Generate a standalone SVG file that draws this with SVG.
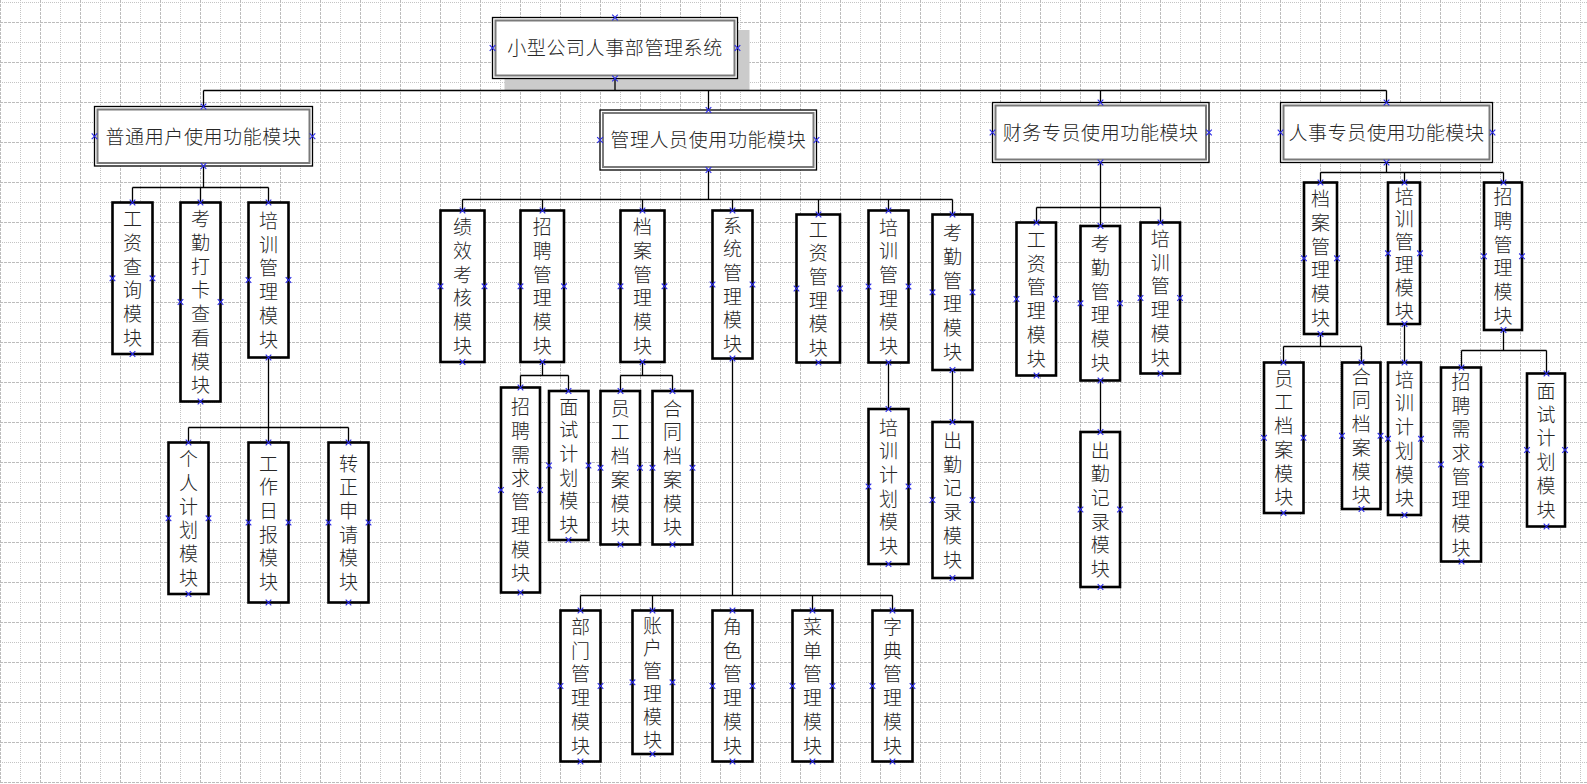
<svg xmlns="http://www.w3.org/2000/svg" width="1587" height="784" viewBox="0 0 1587 784">
<style>
.gd{fill:none;stroke:#bcbcbc;stroke-width:1;stroke-dasharray:3 1}
.gp{fill:none;stroke:#c4c4c4;stroke-width:1;stroke-dasharray:1 1}
.hb{fill:#fff;stroke:#000;stroke-width:1.3}
.hi{fill:none;stroke:#7a7a7a;stroke-width:2}
.vb{fill:#fff;stroke:#000;stroke-width:2.6}
.tx{font-family:'Noto Sans CJK SC','Noto Sans CJK TC',sans-serif;font-size:19px;font-weight:300;fill:#262626;text-anchor:middle}
.ht{letter-spacing:0.6px}
.vt{writing-mode:vertical-rl;letter-spacing:4.7px}
.vs{writing-mode:vertical-rl;letter-spacing:3.8px}
.cn{fill:none;stroke:#000;stroke-width:1.3}
</style>
<defs>
<path id="mk" d="M-2.8,-2.8L2.8,2.8M-2.8,2.8L2.8,-2.8" fill="none" stroke="#2a2ae6" stroke-width="1.1"/>
</defs>
<rect width="1587" height="784" fill="#fff"/>
<!-- background grid -->
<g id="grid">
<path class="gd" d="M0,22.5H1587M0,62.5H1587M0,102.5H1587M0,142.5H1587M0,182.5H1587M0,222.5H1587M0,262.5H1587M0,302.5H1587M0,342.5H1587M0,382.5H1587M0,422.5H1587M0,462.5H1587M0,502.5H1587M0,542.5H1587M0,582.5H1587M0,622.5H1587M0,662.5H1587M0,702.5H1587M0,742.5H1587M0,782.5H1587"/>
<path class="gp" d="M0,2.5H1587M0,42.5H1587M0,82.5H1587M0,122.5H1587M0,162.5H1587M0,202.5H1587M0,242.5H1587M0,282.5H1587M0,322.5H1587M0,362.5H1587M0,402.5H1587M0,442.5H1587M0,482.5H1587M0,522.5H1587M0,562.5H1587M0,602.5H1587M0,642.5H1587M0,682.5H1587M0,722.5H1587M0,762.5H1587"/>
<path class="gd" d="M0.5,0V784M40.5,0V784M80.5,0V784M120.5,0V784M160.5,0V784M200.5,0V784M240.5,0V784M280.5,0V784M320.5,0V784M360.5,0V784M400.5,0V784M440.5,0V784M480.5,0V784M520.5,0V784M560.5,0V784M600.5,0V784M640.5,0V784M680.5,0V784M720.5,0V784M760.5,0V784M800.5,0V784M840.5,0V784M880.5,0V784M920.5,0V784M960.5,0V784M1000.5,0V784M1040.5,0V784M1080.5,0V784M1120.5,0V784M1160.5,0V784M1200.5,0V784M1240.5,0V784M1280.5,0V784M1320.5,0V784M1360.5,0V784M1400.5,0V784M1440.5,0V784M1480.5,0V784M1520.5,0V784M1560.5,0V784"/>
<path class="gp" d="M20.5,0V784M60.5,0V784M100.5,0V784M140.5,0V784M180.5,0V784M220.5,0V784M260.5,0V784M300.5,0V784M340.5,0V784M380.5,0V784M420.5,0V784M460.5,0V784M500.5,0V784M540.5,0V784M580.5,0V784M620.5,0V784M660.5,0V784M700.5,0V784M740.5,0V784M780.5,0V784M820.5,0V784M860.5,0V784M900.5,0V784M940.5,0V784M980.5,0V784M1020.5,0V784M1060.5,0V784M1100.5,0V784M1140.5,0V784M1180.5,0V784M1220.5,0V784M1260.5,0V784M1300.5,0V784M1340.5,0V784M1380.5,0V784M1420.5,0V784M1460.5,0V784M1500.5,0V784M1540.5,0V784M1580.5,0V784"/>
</g>
<!-- root shadow -->
<rect x="504.5" y="30" width="245" height="60.5" fill="#cbcbcb"/>
<!-- connectors -->
<g id="connectors">
<path class="cn" d="M615,78.5V90.5M203.5,90.5H1386.5M203.5,90.5V106.5M708.5,90.5V110M1100.5,90.5V102.5M1386.5,90.5V102.5"/>
<path class="cn" d="M203.5,166V187.5M132.5,187.5H268.5M132.5,187.5V202.5M200.5,187.5V202.5M268.5,187.5V202.5"/>
<path class="cn" d="M268.5,357.5V427.5M188.5,427.5H348.5M188.5,427.5V442.5M268.5,427.5V442.5M348.5,427.5V442.5"/>
<path class="cn" d="M708.5,170V199.5M462.5,199.5H952.5M462.5,199.5V210.5M542.5,199.5V210.5M642.5,199.5V210.5M732.5,199.5V210.5M818.5,199.5V214.5M888.5,199.5V210.5M952.5,199.5V214.5"/>
<path class="cn" d="M542.5,362V375.5M520.5,375.5H568.5M520.5,375.5V387.5M568.5,375.5V391"/>
<path class="cn" d="M642.5,362V375.5M620.5,375.5H672.5M620.5,375.5V391M672.5,375.5V391"/>
<path class="cn" d="M732.5,358.5V595.5M580.5,595.5H892.5M580.5,595.5V610.5M652.5,595.5V610.5M812.5,595.5V610.5M892.5,595.5V610.5"/>
<path class="cn" d="M888.5,362.5V409M952.5,370V422"/>
<path class="cn" d="M1100.5,162.5V226M1036.5,207.5H1160.5M1036.5,207.5V222.5M1160.5,207.5V222.5M1100.5,380.5V432"/>
<path class="cn" d="M1386.5,162.5V172.5M1320.5,172.5H1503.5M1320.5,172.5V182.5M1404.5,172.5V182.5M1503.5,172.5V182.5"/>
<path class="cn" d="M1320.5,334V346.5M1283.5,346.5H1361.5M1283.5,346.5V362.5M1361.5,346.5V362.5M1404.5,324V362.5"/>
<path class="cn" d="M1503.5,330V350.5M1461.5,350.5H1546.5M1461.5,350.5V367.5M1546.5,350.5V373.5"/>
</g>
<!-- root -->
<g id="n-root">
<rect class="hb" x="492.5" y="17.5" width="245" height="61"/>
<rect class="hi" x="495.5" y="20.5" width="239" height="55"/>
<text class="tx ht" x="615" y="55.2">小型公司人事部管理系统</text>
<use href="#mk" x="615" y="17.5"/><use href="#mk" x="615" y="78.5"/><use href="#mk" x="492.5" y="48"/><use href="#mk" x="737.5" y="48"/>
</g>
<!-- second level -->
<g id="n-user">
<rect class="hb" x="94.5" y="106.5" width="218" height="59.5"/>
<rect class="hi" x="97.5" y="109.5" width="212" height="53.5"/>
<text class="tx ht" x="203.5" y="143.5">普通用户使用功能模块</text>
<use href="#mk" x="203.5" y="106.5"/><use href="#mk" x="203.5" y="166"/><use href="#mk" x="94.5" y="136.25"/><use href="#mk" x="312.5" y="136.25"/>
</g>
<g id="n-admin">
<rect class="hb" x="600" y="110" width="216.5" height="60"/>
<rect class="hi" x="603" y="113" width="210.5" height="54"/>
<text class="tx ht" x="708.3" y="147.2">管理人员使用功能模块</text>
<use href="#mk" x="708.5" y="110"/><use href="#mk" x="708.5" y="170"/><use href="#mk" x="600" y="140"/><use href="#mk" x="816.5" y="140"/>
</g>
<g id="n-finance">
<rect class="hb" x="992.5" y="102.5" width="216.5" height="60"/>
<rect class="hi" x="995.5" y="105.5" width="210.5" height="54"/>
<text class="tx ht" x="1100.7" y="139.7">财务专员使用功能模块</text>
<use href="#mk" x="1100.5" y="102.5"/><use href="#mk" x="1100.5" y="162.5"/><use href="#mk" x="992.5" y="132.5"/><use href="#mk" x="1209" y="132.5"/>
</g>
<g id="n-hr">
<rect class="hb" x="1280.5" y="102.5" width="212" height="60"/>
<rect class="hi" x="1283.5" y="105.5" width="206" height="54"/>
<text class="tx ht" x="1386.5" y="139.7">人事专员使用功能模块</text>
<use href="#mk" x="1386.5" y="102.5"/><use href="#mk" x="1386.5" y="162.5"/><use href="#mk" x="1280.5" y="132.5"/><use href="#mk" x="1492.5" y="132.5"/>
</g>
<!-- ordinary user modules -->
<g id="n-a1">
<rect class="vb" x="112.5" y="202.5" width="40" height="151.5"/>
<text class="tx vt" x="132.5" y="280.6">工资查询模块</text>
<use href="#mk" x="132.5" y="202.5"/><use href="#mk" x="132.5" y="354"/><use href="#mk" x="112.5" y="278.3"/><use href="#mk" x="152.5" y="278.3"/>
</g>
<g id="n-a2">
<rect class="vb" x="180.5" y="202.5" width="40" height="199"/>
<text class="tx vt" x="200.5" y="304.4">考勤打卡查看模块</text>
<use href="#mk" x="200.5" y="202.5"/><use href="#mk" x="200.5" y="401.5"/><use href="#mk" x="180.5" y="302"/><use href="#mk" x="220.5" y="302"/>
</g>
<g id="n-a3">
<rect class="vb" x="248.5" y="202.5" width="40" height="155"/>
<text class="tx vt" x="268.5" y="282.4">培训管理模块</text>
<use href="#mk" x="268.5" y="202.5"/><use href="#mk" x="268.5" y="357.5"/><use href="#mk" x="248.5" y="280"/><use href="#mk" x="288.5" y="280"/>
</g>
<g id="n-a31">
<rect class="vb" x="168.5" y="442.5" width="40" height="151.5"/>
<text class="tx vt" x="188.5" y="520.6">个人计划模块</text>
<use href="#mk" x="188.5" y="442.5"/><use href="#mk" x="188.5" y="594"/><use href="#mk" x="168.5" y="518.3"/><use href="#mk" x="208.5" y="518.3"/>
</g>
<g id="n-a32">
<rect class="vb" x="248.5" y="442.5" width="40" height="160"/>
<text class="tx vt" x="268.5" y="524.9">工作日报模块</text>
<use href="#mk" x="268.5" y="442.5"/><use href="#mk" x="268.5" y="602.5"/><use href="#mk" x="248.5" y="522.5"/><use href="#mk" x="288.5" y="522.5"/>
</g>
<g id="n-a33">
<rect class="vb" x="328.5" y="442.5" width="40" height="160"/>
<text class="tx vt" x="348.5" y="524.9">转正申请模块</text>
<use href="#mk" x="348.5" y="442.5"/><use href="#mk" x="348.5" y="602.5"/><use href="#mk" x="328.5" y="522.5"/><use href="#mk" x="368.5" y="522.5"/>
</g>
<!-- administrator modules -->
<g id="n-b1">
<rect class="vb" x="440.5" y="210.5" width="44" height="151.5"/>
<text class="tx vt" x="462.5" y="288.6">绩效考核模块</text>
<use href="#mk" x="462.5" y="210.5"/><use href="#mk" x="462.5" y="362"/><use href="#mk" x="440.5" y="286.3"/><use href="#mk" x="484.5" y="286.3"/>
</g>
<g id="n-b2">
<rect class="vb" x="520.5" y="210.5" width="43.5" height="151.5"/>
<text class="tx vt" x="542.3" y="288.6">招聘管理模块</text>
<use href="#mk" x="542.5" y="210.5"/><use href="#mk" x="542.5" y="362"/><use href="#mk" x="520.5" y="286.3"/><use href="#mk" x="564" y="286.3"/>
</g>
<g id="n-b3">
<rect class="vb" x="620.5" y="210.5" width="44" height="151.5"/>
<text class="tx vt" x="642.5" y="288.6">档案管理模块</text>
<use href="#mk" x="642.5" y="210.5"/><use href="#mk" x="642.5" y="362"/><use href="#mk" x="620.5" y="286.3"/><use href="#mk" x="664.5" y="286.3"/>
</g>
<g id="n-b4">
<rect class="vb" x="712.5" y="210.5" width="40" height="148"/>
<text class="tx vt" x="732.5" y="286.9">系统管理模块</text>
<use href="#mk" x="732.5" y="210.5"/><use href="#mk" x="732.5" y="358.5"/><use href="#mk" x="712.5" y="284.5"/><use href="#mk" x="752.5" y="284.5"/>
</g>
<g id="n-b5">
<rect class="vb" x="796.5" y="214.5" width="43.5" height="148"/>
<text class="tx vt" x="818.3" y="290.9">工资管理模块</text>
<use href="#mk" x="818.5" y="214.5"/><use href="#mk" x="818.5" y="362.5"/><use href="#mk" x="796.5" y="288.5"/><use href="#mk" x="840" y="288.5"/>
</g>
<g id="n-b6">
<rect class="vb" x="868.5" y="210.5" width="40" height="152"/>
<text class="tx vt" x="888.5" y="288.9">培训管理模块</text>
<use href="#mk" x="888.5" y="210.5"/><use href="#mk" x="888.5" y="362.5"/><use href="#mk" x="868.5" y="286.5"/><use href="#mk" x="908.5" y="286.5"/>
</g>
<g id="n-b7">
<rect class="vb" x="932.5" y="214.5" width="40" height="155.5"/>
<text class="tx vt" x="952.5" y="294.6">考勤管理模块</text>
<use href="#mk" x="952.5" y="214.5"/><use href="#mk" x="952.5" y="370"/><use href="#mk" x="932.5" y="292.3"/><use href="#mk" x="972.5" y="292.3"/>
</g>
<g id="n-b21">
<rect class="vb" x="501" y="387.5" width="39" height="205"/>
<text class="tx vt" x="520.5" y="492.4">招聘需求管理模块</text>
<use href="#mk" x="520.5" y="387.5"/><use href="#mk" x="520.5" y="592.5"/><use href="#mk" x="501" y="490"/><use href="#mk" x="540" y="490"/>
</g>
<g id="n-b22">
<rect class="vb" x="549" y="391" width="39.5" height="149"/>
<text class="tx vt" x="568.7" y="467.9">面试计划模块</text>
<use href="#mk" x="568.5" y="391"/><use href="#mk" x="568.5" y="540"/><use href="#mk" x="549" y="465.5"/><use href="#mk" x="588.5" y="465.5"/>
</g>
<g id="n-b31">
<rect class="vb" x="600.5" y="391" width="39.5" height="153.5"/>
<text class="tx vt" x="620.3" y="470.1">员工档案模块</text>
<use href="#mk" x="620.5" y="391"/><use href="#mk" x="620.5" y="544.5"/><use href="#mk" x="600.5" y="467.8"/><use href="#mk" x="640" y="467.8"/>
</g>
<g id="n-b32">
<rect class="vb" x="652.5" y="391" width="40" height="153.5"/>
<text class="tx vt" x="672.5" y="470.1">合同档案模块</text>
<use href="#mk" x="672.5" y="391"/><use href="#mk" x="672.5" y="544.5"/><use href="#mk" x="652.5" y="467.8"/><use href="#mk" x="692.5" y="467.8"/>
</g>
<g id="n-b41">
<rect class="vb" x="560.5" y="610.5" width="40" height="151"/>
<text class="tx vt" x="580.5" y="688.4">部门管理模块</text>
<use href="#mk" x="580.5" y="610.5"/><use href="#mk" x="580.5" y="761.5"/><use href="#mk" x="560.5" y="686"/><use href="#mk" x="600.5" y="686"/>
</g>
<g id="n-b42">
<rect class="vb" x="632.5" y="610.5" width="40" height="143.5"/>
<text class="tx vs" x="652.5" y="684.2">账户管理模块</text>
<use href="#mk" x="652.5" y="610.5"/><use href="#mk" x="652.5" y="754"/><use href="#mk" x="632.5" y="682.3"/><use href="#mk" x="672.5" y="682.3"/>
</g>
<g id="n-b43">
<rect class="vb" x="712.5" y="610.5" width="40" height="151"/>
<text class="tx vt" x="732.5" y="688.4">角色管理模块</text>
<use href="#mk" x="732.5" y="610.5"/><use href="#mk" x="732.5" y="761.5"/><use href="#mk" x="712.5" y="686"/><use href="#mk" x="752.5" y="686"/>
</g>
<g id="n-b44">
<rect class="vb" x="792.5" y="610.5" width="40" height="151"/>
<text class="tx vt" x="812.5" y="688.4">菜单管理模块</text>
<use href="#mk" x="812.5" y="610.5"/><use href="#mk" x="812.5" y="761.5"/><use href="#mk" x="792.5" y="686"/><use href="#mk" x="832.5" y="686"/>
</g>
<g id="n-b45">
<rect class="vb" x="872.5" y="610.5" width="40" height="151"/>
<text class="tx vt" x="892.5" y="688.4">字典管理模块</text>
<use href="#mk" x="892.5" y="610.5"/><use href="#mk" x="892.5" y="761.5"/><use href="#mk" x="872.5" y="686"/><use href="#mk" x="912.5" y="686"/>
</g>
<g id="n-b61">
<rect class="vb" x="868.5" y="409" width="40" height="155"/>
<text class="tx vt" x="888.5" y="488.9">培训计划模块</text>
<use href="#mk" x="888.5" y="409"/><use href="#mk" x="888.5" y="564"/><use href="#mk" x="868.5" y="486.5"/><use href="#mk" x="908.5" y="486.5"/>
</g>
<g id="n-b71">
<rect class="vb" x="932.5" y="422" width="40" height="156"/>
<text class="tx vt" x="952.5" y="502.4">出勤记录模块</text>
<use href="#mk" x="952.5" y="422"/><use href="#mk" x="952.5" y="578"/><use href="#mk" x="932.5" y="500"/><use href="#mk" x="972.5" y="500"/>
</g>
<!-- finance modules -->
<g id="n-c1">
<rect class="vb" x="1016.5" y="222.5" width="39.5" height="153"/>
<text class="tx vt" x="1036.3" y="301.4">工资管理模块</text>
<use href="#mk" x="1036.5" y="222.5"/><use href="#mk" x="1036.5" y="375.5"/><use href="#mk" x="1016.5" y="299"/><use href="#mk" x="1056" y="299"/>
</g>
<g id="n-c2">
<rect class="vb" x="1080.5" y="226" width="39.5" height="154.5"/>
<text class="tx vt" x="1100.3" y="305.6">考勤管理模块</text>
<use href="#mk" x="1100.5" y="226"/><use href="#mk" x="1100.5" y="380.5"/><use href="#mk" x="1080.5" y="303.3"/><use href="#mk" x="1120" y="303.3"/>
</g>
<g id="n-c3">
<rect class="vb" x="1140.5" y="222.5" width="39.5" height="151"/>
<text class="tx vt" x="1160.3" y="300.4">培训管理模块</text>
<use href="#mk" x="1160.5" y="222.5"/><use href="#mk" x="1160.5" y="373.5"/><use href="#mk" x="1140.5" y="298"/><use href="#mk" x="1180" y="298"/>
</g>
<g id="n-c21">
<rect class="vb" x="1080.5" y="432" width="39.5" height="155"/>
<text class="tx vt" x="1100.3" y="511.9">出勤记录模块</text>
<use href="#mk" x="1100.5" y="432"/><use href="#mk" x="1100.5" y="587"/><use href="#mk" x="1080.5" y="509.5"/><use href="#mk" x="1120" y="509.5"/>
</g>
<!-- HR modules -->
<g id="n-d1">
<rect class="vb" x="1304" y="182.5" width="33" height="151.5"/>
<text class="tx vt" x="1320.5" y="260.6">档案管理模块</text>
<use href="#mk" x="1320.5" y="182.5"/><use href="#mk" x="1320.5" y="334"/><use href="#mk" x="1304" y="258.3"/><use href="#mk" x="1337" y="258.3"/>
</g>
<g id="n-d2">
<rect class="vb" x="1388" y="182.5" width="32" height="141.5"/>
<text class="tx vs" x="1404.2" y="255.2">培训管理模块</text>
<use href="#mk" x="1404.5" y="182.5"/><use href="#mk" x="1404.5" y="324"/><use href="#mk" x="1388" y="253.3"/><use href="#mk" x="1420" y="253.3"/>
</g>
<g id="n-d3">
<rect class="vb" x="1484" y="182.5" width="38" height="147.5"/>
<text class="tx vt" x="1503" y="258.6">招聘管理模块</text>
<use href="#mk" x="1503.5" y="182.5"/><use href="#mk" x="1503.5" y="330"/><use href="#mk" x="1484" y="256.3"/><use href="#mk" x="1522" y="256.3"/>
</g>
<g id="n-d11">
<rect class="vb" x="1264" y="362.5" width="39.5" height="150.5"/>
<text class="tx vt" x="1283.8" y="440.1">员工档案模块</text>
<use href="#mk" x="1283.5" y="362.5"/><use href="#mk" x="1283.5" y="513"/><use href="#mk" x="1264" y="437.8"/><use href="#mk" x="1303.5" y="437.8"/>
</g>
<g id="n-d12">
<rect class="vb" x="1342" y="362.5" width="38.5" height="146.5"/>
<text class="tx vt" x="1361.3" y="438.1">合同档案模块</text>
<use href="#mk" x="1361.5" y="362.5"/><use href="#mk" x="1361.5" y="509"/><use href="#mk" x="1342" y="435.8"/><use href="#mk" x="1380.5" y="435.8"/>
</g>
<g id="n-d21">
<rect class="vb" x="1388" y="362.5" width="33" height="152.5"/>
<text class="tx vt" x="1404.5" y="441.1">培训计划模块</text>
<use href="#mk" x="1404.5" y="362.5"/><use href="#mk" x="1404.5" y="515"/><use href="#mk" x="1388" y="438.8"/><use href="#mk" x="1421" y="438.8"/>
</g>
<g id="n-d31">
<rect class="vb" x="1441" y="367.5" width="40" height="194"/>
<text class="tx vt" x="1461" y="466.9">招聘需求管理模块</text>
<use href="#mk" x="1461.5" y="367.5"/><use href="#mk" x="1461.5" y="561.5"/><use href="#mk" x="1441" y="464.5"/><use href="#mk" x="1481" y="464.5"/>
</g>
<g id="n-d32">
<rect class="vb" x="1527" y="373.5" width="38" height="153"/>
<text class="tx vt" x="1546" y="452.4">面试计划模块</text>
<use href="#mk" x="1546.5" y="373.5"/><use href="#mk" x="1546.5" y="526.5"/><use href="#mk" x="1527" y="450"/><use href="#mk" x="1565" y="450"/>
</g>
</svg>
